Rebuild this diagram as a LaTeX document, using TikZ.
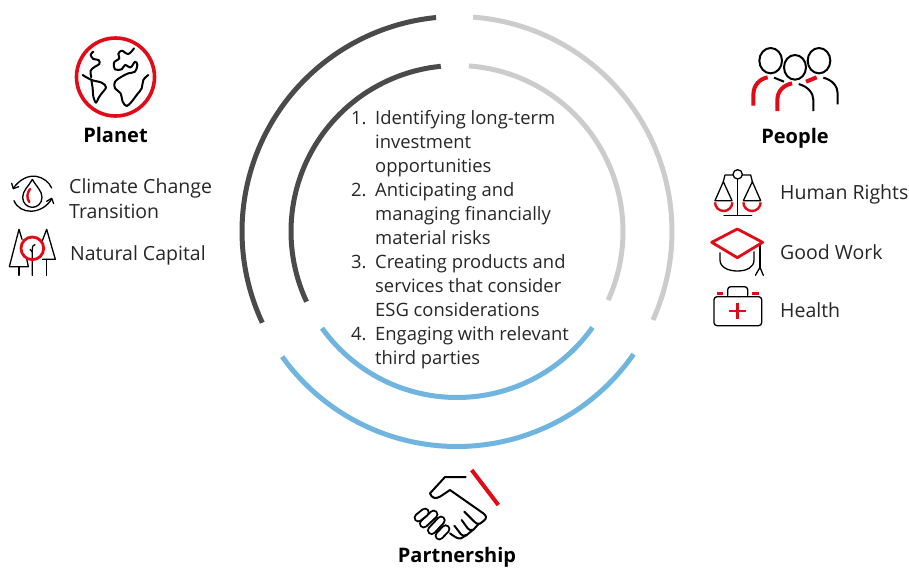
\documentclass[tikz,border=0pt]{standalone}
\usepackage{fontspec}
\setmainfont{Open Sans}
\definecolor{hred}{HTML}{E30A17}
\definecolor{hdark}{HTML}{4A4A4A}
\definecolor{hlight}{HTML}{CCCCCC}
\definecolor{hblue}{HTML}{6FB5E0}
\definecolor{htext}{HTML}{262626}
\tikzset{
  ring/.style={line width=5pt,line cap=butt},
  ink/.style={draw=black,line width=2pt,line cap=round,line join=round},
  thin ink/.style={draw=black,line width=1.3pt,line cap=round,line join=round},
  mid ink/.style={draw=black,line width=2pt,line cap=round,line join=round},
  thin red/.style={draw=hred,line width=2.4pt},
  listtxt/.style={anchor=base west,inner sep=0pt,text=htext,font=\fontsize{18.4}{24}\selectfont},
  sidetxt/.style={anchor=base west,inner sep=0pt,text=htext,font=\fontsize{19.5}{24}\selectfont},
  headtxt/.style={anchor=base,inner sep=0pt,text=black,font=\fontsize{20}{24}\selectfont\bfseries},
  finger/.style={line width=2pt,double=white,double distance=5.4pt,line cap=round},
}
\begin{document}
\begin{tikzpicture}[x=1pt,y=1pt,yscale=-1]
\useasboundingbox (0,0) rectangle (909,568);
\coordinate (c) at (457,231.5);
% rings (angles are negated because the y axis points down)
\draw[ring,hdark]  (c) ++(-95.6:215) arc[start angle=-95.6,end angle=-205.1,radius=215];
\draw[ring,hlight] (c) ++(-85.7:215) arc[start angle=-85.7,end angle=24.3,radius=215];
\draw[ring,hblue]  (c) ++(-215.6:215) arc[start angle=-215.6,end angle=-325.2,radius=215];
\draw[ring,hdark]  (c) ++(-95.6:166) arc[start angle=-95.6,end angle=-205,radius=166];
\draw[ring,hlight] (c) ++(-85.9:166) arc[start angle=-85.9,end angle=24.4,radius=166];
\draw[ring,hblue]  (c) ++(-215.6:166) arc[start angle=-215.6,end angle=-324.7,radius=166];
% list
\node[listtxt] (n1) at (351,124) {1.};
\node[listtxt] (l1) at (375,124) {Identifying long-term};
\node[listtxt] (l2) at (375,148) {investment};
\node[listtxt] (l3) at (375,172) {opportunities};
\node[listtxt] (n2) at (351,196) {2.};
\node[listtxt] (l4) at (375,196) {Anticipating and};
\node[listtxt] (l5) at (375,220) {managing financially};
\node[listtxt] (l6) at (375,244) {material risks};
\node[listtxt] (n3) at (351,268) {3.};
\node[listtxt] (l7) at (375,268) {Creating products and};
\node[listtxt] (l8) at (375,292) {services that consider};
\node[listtxt] (l9) at (375,316) {ESG considerations};
\node[listtxt] (n4) at (351,340) {4.};
\node[listtxt] (l10) at (375,340) {Engaging with relevant};
\node[listtxt] (l11) at (375,364) {third parties};
% headings and side labels
\node[headtxt] (planet) at (115.5,142) {Planet};
\node[headtxt] (people) at (795,143) {People};
\node[headtxt] (partner) at (457,562.5) {Partnership};
\node[sidetxt] (climate) at (69,193) {Climate Change};
\node[sidetxt] (trans) at (69,218) {Transition};
\node[sidetxt] (natural) at (70,260) {Natural Capital};
\node[sidetxt] (human) at (780,199.5) {Human Rights};
\node[sidetxt] (work) at (780,259.5) {Good Work};
\node[sidetxt] (health) at (780,317) {Health};
% globe
\begin{scope}[shift={(0,30)},scale=1/3]
\draw[draw=hred,line width=3.6pt] (346.5,141) circle[radius=117];
\draw[ink] plot[smooth,tension=.6] coordinates {(280,65) (272,74) (280,87) (296,90) (298,102) (285,110) (272,122) (274,142)};
\draw[ink] plot[smooth,tension=.6] coordinates {(248,135) (275,150) (305,158) (318,172) (305,190) (295,205) (288,218) (280,200) (278,175) (274,150)};
\draw[ink] plot[smooth,tension=.6] coordinates {(402,55) (385,72) (365,62) (355,72) (358,85) (342,98) (345,118) (365,118) (375,105) (392,112) (405,95) (412,105) (405,125) (385,130) (365,140) (345,155) (345,175) (362,190) (368,215) (380,228) (395,215) (410,195) (425,175) (430,150) (445,135)};
\end{scope}
% climate icon
\begin{scope}[shift={(0,160)},scale=1/3]
\draw[thin ink] (97,58) .. controls (85,80) and (68,92) .. (68,112) .. controls (68,130) and (82,142) .. (97,142) .. controls (112,142) and (126,130) .. (126,112) .. controls (126,92) and (109,80) .. (97,58);
\draw[thin red,line cap=round] (90,87) .. controls (80,100) and (80,115) .. (88,126);
\draw[thin ink] (155,84) .. controls (140,50) and (85,25) .. (40,84);
\draw[thin ink] (35,70) -- (40,86) -- (56,80);
\draw[thin ink] (42,122) .. controls (60,165) and (125,165) .. (155,117);
\draw[thin ink] (140,124) -- (155,115) -- (161,131);
\end{scope}
% trees icon
\begin{scope}[shift={(0,160)},scale=1/3]
\draw[thin ink] (66,238) -- (57,208) -- (28,320) -- (85,320) -- (80,296);
\draw[thin ink] (57,320) -- (57,346);
\draw[thin ink] (126,245) -- (140,208) -- (166,298) -- (128,298);
\draw[thin ink] (140,298) -- (140,346);
\draw[thin ink] (97,346) -- (97,268) .. controls (97,258) and (100,255) .. (105,254);
\draw[thin ink] (97,276) -- (90,268);
\draw[draw=hred,line width=2.8pt] (97,265) circle[radius=34];
\end{scope}
% people icon
\begin{scope}[shift={(700,30)},scale=1/3]
\draw[mid ink] (212,92) ellipse[x radius=34,y radius=38];
\draw[mid ink] (285,112) ellipse[x radius=33,y radius=37];
\draw[mid ink] (357,92) ellipse[x radius=34,y radius=38];
\draw[draw=hred,line width=4pt] (160,227) -- (160,195) .. controls (160,165) and (180,146) .. (203,142);
\draw[draw=hred,line width=4pt] (232,243) -- (232,210) .. controls (232,182) and (252,165) .. (276,160);
\draw[draw=hred,line width=4pt] (318,155) -- (350,142);
\draw[mid ink,line cap=butt] (222,143) -- (252,155);
\draw[mid ink,line cap=butt] (296,162) .. controls (325,170) and (340,190) .. (340,210) -- (340,243);
\draw[mid ink,line cap=butt] (370,143) .. controls (398,150) and (413,170) .. (413,190) -- (413,223);
\end{scope}
% scales, cap, first-aid kit
\begin{scope}[shift={(700,160)},scale=1/3]
\draw[thin ink] (113,57) -- (113,165);
\draw[thin ink] (72,167) -- (155,167);
\draw[thin ink] (113,43) circle[radius=14];
\draw[thin ink] (70,65) -- (75,45) -- (99,45);
\draw[thin ink] (127,45) -- (152,45) -- (157,65);
\draw[thin ink] (45,122) -- (70,65) -- (96,122) -- cycle;
\draw[thin ink] (130,122) -- (157,65) -- (182,122) -- cycle;
\draw[thin red] (45,127) arc[start angle=180,end angle=0,radius=26];
\draw[thin red] (130,127) arc[start angle=180,end angle=0,radius=26];
\draw[thin ink] (60,278) -- (60,300) .. controls (60,322) and (85,333) .. (112,333) .. controls (140,333) and (162,322) .. (162,300) -- (162,275);
\draw[thin ink] (180,255) -- (180,323);
\draw[thin ink] (166,346) -- (180,322) -- (190,346);
\draw[draw=hred,line width=2.8pt,line join=round] (35,247) -- (112,207) -- (188,247) -- (112,293) -- cycle;
\draw[thin ink,rounded corners=3pt] (42,410) rectangle (185,497);
\draw[thin ink,rounded corners=3pt] (83,406) -- (83,380) -- (143,380) -- (143,406);
\draw[thin red] (52,400) -- (70,400);
\draw[thin red] (157,400) -- (176,400);
\draw[thin red] (88,453) -- (138,453);
\draw[thin red] (113,428) -- (113,478);
\end{scope}
% handshake
\begin{scope}[shift={(405,465)},scale=1/3]
\draw[draw=hred,line width=4pt] (200,15) -- (280,120);
\draw[ink] (182,36) -- (120,36) -- (75,85) .. controls (80,100) and (92,102) .. (105,95) -- (135,75) -- (235,145) .. controls (245,152) and (245,160) .. (238,166) -- (225,176) .. controls (218,178) and (213,176) .. (208,170) -- (178,140);
\draw[ink] (222,176) -- (205,194) .. controls (198,198) and (192,195) .. (188,190) -- (170,165);
\draw[ink] (205,194) -- (185,210) .. controls (178,214) and (172,212) .. (168,208) -- (148,182);
\draw[ink] (185,210) -- (168,220) .. controls (160,222) and (152,218) .. (135,205);
\draw[finger] (103,212) -- (122,192);
\draw[finger] (80,196) -- (108,166);
\draw[finger] (56,176) -- (86,148);
\draw[finger] (40,158) -- (60,142);
\end{scope}
\end{tikzpicture}
\end{document}
